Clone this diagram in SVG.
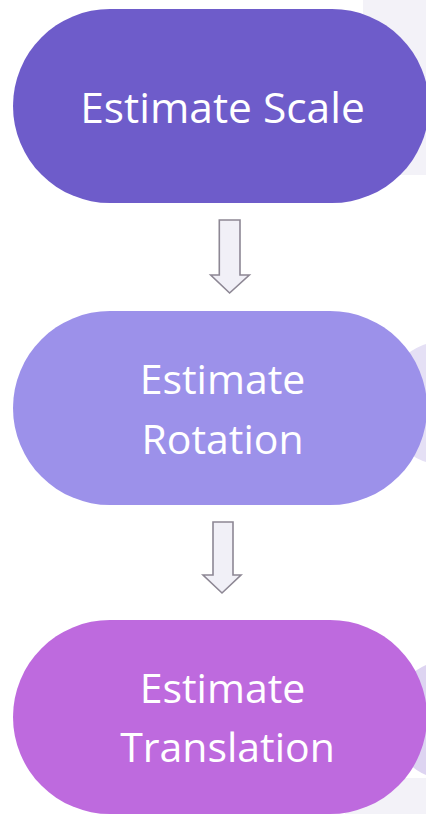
<svg xmlns="http://www.w3.org/2000/svg" width="426" height="814" viewBox="0 0 426 814">
  <style>
    .label { font-family: "Open Sans", "Noto Sans", sans-serif; font-size: 41px; fill: #ffffff; text-anchor: middle; }
    .label.wide { font-size: 42.5px; }
    .arrow { fill: #f1f0f7; stroke: #8d8794; stroke-width: 1.6; stroke-linejoin: miter; }
    .backdrop { fill: #f3f2f8; }
  </style>

  <!-- background decorations -->
  <g id="decor">
    <path class="backdrop" d="M363 0 H426 V175 H400 Q363 175 363 140 Z"/>
    <path class="backdrop" d="M345 814 V800 Q345 778 370 778 H426 V814 Z"/>
    <circle cx="445" cy="403" r="62" fill="#e5e0f5"/>
    <circle cx="450" cy="720" r="60" fill="#ddd4f1"/>
  </g>

  <g id="connectors">
    <path class="arrow" d="M219.3 220 H240 V275 H249.3 L229.6 293 L210.7 275 H219.3 Z"/>
    <path class="arrow" d="M213 522 H233 V575 H241 L222 593 L203 575 H213 Z"/>
  </g>

  <g id="node-scale">
    <rect x="13" y="9" width="416" height="194" rx="97" fill="#6e5cca"/>
    <text class="label wide" x="222.5" y="123">Estimate Scale</text>
  </g>

  <g id="node-rotation">
    <rect x="13" y="311" width="414" height="194" rx="97" fill="#9c91ea"/>
    <text class="label" x="222.5" y="394">Estimate</text>
    <text class="label" x="222.5" y="454">Rotation</text>
  </g>

  <g id="node-translation">
    <rect x="13" y="620" width="414" height="194" rx="97" fill="#be6ade"/>
    <text class="label" x="222.5" y="703">Estimate</text>
    <text class="label" x="227.5" y="762">Translation</text>
  </g>
</svg>
